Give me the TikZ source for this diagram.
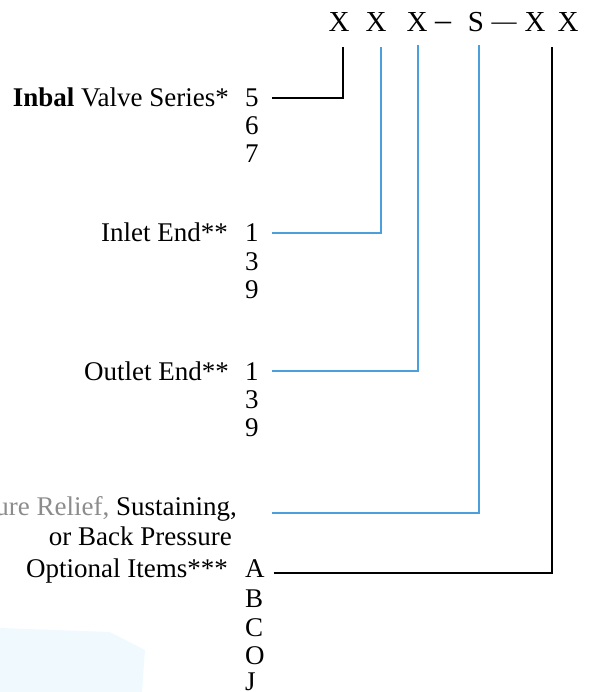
\documentclass[tikz,border=0pt]{standalone}
\usepackage{fontspec}
\setmainfont{Liberation Serif}
\usetikzlibrary{positioning}
\definecolor{lineblue}{RGB}{75,160,220}
\definecolor{fadegray}{RGB}{140,140,140}

\begin{document}
\begin{tikzpicture}[x=1pt,y=-1pt,
	every node/.style={black,inner sep=0pt,font=\fontsize{27}{30}\selectfont},
	lbl/.style={anchor=base east},
	code/.style={anchor=base west},
	top/.style={anchor=base,font=\fontsize{29}{32}\selectfont},
	blk/.style={black,line width=2pt},
	blu/.style={lineblue,line width=2pt}]
	\useasboundingbox (0,0) rectangle (594,692);
	\clip (0,0) rectangle (594,692);
	\fill[cyan!6] (0,628) -- (110,632) -- (145,650) -- (142,692) -- (0,692) -- cycle;

	% model code on top
	\node[top] (x1) at (339,32) {X};
	\node[top] (x2) at (376,32) {X};
	\node[top] (x3) at (417,32) {X};
	\node[top,font=\fontsize{32}{34}\selectfont] (d1) at (443,31) {–};
	\node[top] (sx) at (476,32) {S};
	\node[top,font=\fontsize{25}{28}\selectfont] (d2) at (504,30) {—};
	\node[top] (x6) at (535,32) {X};
	\node[top] (x7) at (568,32) {X};

	\coordinate (c1) at (343,47);
	\coordinate (c2) at (381,47);
	\coordinate (c3) at (418,45);
	\coordinate (c4) at (479,45);
	\coordinate (c5) at (552,47);

	% series
	\node[lbl] (series) at (229,107) {\textbf{Inbal} Valve Series*};
	\node[code] (s5) at (245,107) {5};
	\node[code] (s6) at (245,135) {6};
	\node[code] (s7) at (245,163) {7};

	% inlet
	\node[lbl] (inlet) at (228,242) {Inlet End**};
	\node[code] (i1) at (245,242) {1};
	\node[code] (i3) at (245,270) {3};
	\node[code] (i9) at (245,298) {9};

	% outlet
	\node[lbl] (outlet) at (229,380) {Outlet End**};
	\node[code] (o1) at (245,380) {1};
	\node[code] (o3) at (245,408) {3};
	\node[code] (o9) at (245,436) {9};

	% function
	\node[lbl] (relief) at (237,515) {{\color{fadegray}Pressure Relief,} Sustaining,};
	\node[lbl] (back) at (232,545) {or Back Pressure};
	\coordinate (r0) at (272,513);

	% options
	\node[lbl] (opt) at (228,577) {Optional Items***};
	\node[code] (oa) at (245,577) {A};
	\node[code] (ob) at (245,607) {B};
	\node[code] (oc) at (245,636) {C};
	\node[code] (oo) at (245,664) {O};
	\node[code] (oj) at (245,690) {J};

	\draw[blk] ([xshift=13pt]s5.east) -| (c1);
	\draw[blu] ([xshift=13pt]i1.east) -| (c2);
	\draw[blu] ([xshift=13pt]o1.east) -| (c3);
	\draw[blu] (r0) -| (c4);
	\draw[blk] ([xshift=9pt,yshift=-5pt]oa.east) -| (c5);
\end{tikzpicture}
\end{document}
